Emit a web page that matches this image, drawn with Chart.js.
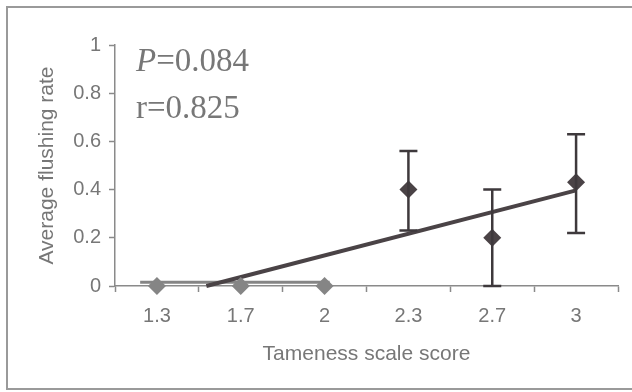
<!DOCTYPE html>
<html>
<head>
<meta charset="utf-8">
<script src="https://cdn.jsdelivr.net/npm/chart.js@4/dist/chart.umd.min.js"></script>
<style>
  html, body { margin: 0; padding: 0; background: #ffffff; }
  #wrap { width: 632px; height: 392px; position: relative; }
</style>
</head>
<body>
<div id="wrap"><canvas id="c" width="632" height="392"></canvas></div>
<script>
// Category labels on the x axis (positions 1..6)
const categories = ['1.3', '1.7', '2', '2.3', '2.7', '3'];
const yTicks = [0, 0.2, 0.4, 0.6, 0.8, 1];

// Dark series (with error bars)
const darkX = [4, 5, 6];
const darkMean = [0.40, 0.20, 0.43];
const darkLow = [0.23, 0.00, 0.22];
const darkHigh = [0.56, 0.40, 0.63];

// Grey series (no error bars)
const greyX = [1, 2, 3];
const greyMean = [0, 0, 0];

// Trend line
const trendX = [1.59, 6];
const trendY = [0, 0.397];

// Grey flat line near zero
const greyLineX = [0.8, 3.06];
const greyLineY = [0.016, 0.016];

const annotP = 'P';
const annotPValue = '=0.084';
const annotR = 'r=0.825';

const DARK = '#4a4346';
const GREY = '#858585';
const AXIS = '#8a8a8a';
const TEXT = '#777777';

const zip = (xs, ys) => xs.map((x, i) => ({ x: x, y: ys[i] }));

const frameAndText = {
  id: 'frameAndText',
  beforeDraw(chart) {
    const ctx = chart.ctx;
    ctx.save();
    ctx.strokeStyle = '#9a9a9a';
    ctx.lineWidth = 2;
    ctx.beginPath();
    ctx.moveTo(632, 7); ctx.lineTo(7, 7); ctx.lineTo(7, 389); ctx.lineTo(632, 389);
    ctx.stroke();
    ctx.restore();
  },
  afterDatasetsDraw(chart) {
    const ctx = chart.ctx;
    const xs = chart.scales.x, ys = chart.scales.y;
    ctx.save();
    ctx.strokeStyle = '#3e393c';
    ctx.lineWidth = 2.5;
    darkX.forEach((xv, i) => {
      const px = xs.getPixelForValue(xv);
      const top = ys.getPixelForValue(darkHigh[i]);
      const bot = ys.getPixelForValue(darkLow[i]);
      ctx.beginPath();
      ctx.moveTo(px, top); ctx.lineTo(px, bot);
      ctx.moveTo(px - 9, top); ctx.lineTo(px + 9, top);
      ctx.moveTo(px - 9, bot); ctx.lineTo(px + 9, bot);
      ctx.stroke();
    });
    ctx.restore();
  },
  afterDraw(chart) {
    const ctx = chart.ctx;
    ctx.save();
    ctx.fillStyle = TEXT;
    ctx.textBaseline = 'alphabetic';
    ctx.textAlign = 'left';
    ctx.font = 'italic 33px "Liberation Serif", "Times New Roman", serif';
    ctx.fillText(annotP, 136, 71);
    const w = ctx.measureText(annotP).width;
    ctx.font = '33px "Liberation Serif", "Times New Roman", serif';
    ctx.fillText(annotPValue, 136 + w, 71);
    ctx.fillText(annotR, 136, 118);
    ctx.restore();
  }
};

new Chart(document.getElementById('c'), {
  type: 'scatter',
  data: {
    datasets: [
      {
        label: 'grey line',
        data: zip(greyLineX, greyLineY),
        showLine: true,
        borderColor: GREY,
        borderWidth: 3,
        pointRadius: 0,
        clip: false,
        order: 4
      },
      {
        label: 'trend',
        data: zip(trendX, trendY),
        showLine: true,
        borderColor: DARK,
        borderWidth: 4,
        pointRadius: 0,
        clip: false,
        order: 3
      },
      {
        label: 'grey',
        data: zip(greyX, greyMean),
        pointStyle: 'rectRot',
        pointRadius: 9,
        backgroundColor: GREY,
        borderColor: GREY,
        borderWidth: 0,
        clip: false,
        order: 2
      },
      {
        label: 'dark',
        data: zip(darkX, darkMean),
        pointStyle: 'rectRot',
        pointRadius: 9,
        backgroundColor: DARK,
        borderColor: DARK,
        borderWidth: 0,
        clip: false,
        order: 1
      }
    ]
  },
  options: {
    responsive: false,
    animation: false,
    events: [],
    layout: { padding: { left: 0, right: 14, top: 45, bottom: 0 } },
    plugins: { legend: { display: false }, tooltip: { enabled: false } },
    scales: {
      x: {
        type: 'linear',
        min: 0.5,
        max: 6.5,
        afterFit: s => { s.height = 106; },
        afterBuildTicks: s => {
          const t = [];
          for (let i = 0; i <= categories.length; i++) {
            t.push({ value: i + 0.5 });
            if (i < categories.length) t.push({ value: i + 1 });
          }
          s.ticks = t;
        },
        ticks: {
          autoSkip: false,
          maxRotation: 0,
          padding: 12,
          color: TEXT,
          font: { family: '"Liberation Sans", Arial, sans-serif', size: 20 },
          callback: v => Number.isInteger(v) ? categories[v - 1] : ''
        },
        grid: {
          drawOnChartArea: false,
          drawTicks: true,
          tickLength: 6,
          tickWidth: 1.5,
          tickColor: ctx => (ctx.tick && Number.isInteger(ctx.tick.value)) ? 'rgba(0,0,0,0)' : AXIS
        },
        border: { display: true, color: AXIS, width: 1.5 },
        title: {
          display: true,
          text: 'Tameness scale score',
          color: TEXT,
          font: { family: '"Liberation Sans", Arial, sans-serif', size: 21 },
          padding: { top: 0, bottom: 25 }
        }
      },
      y: {
        type: 'linear',
        min: 0,
        max: 1,
        afterFit: s => { s.width = 115; },
        afterBuildTicks: s => { s.ticks = yTicks.map(v => ({ value: v })); },
        ticks: {
          padding: 8,
          color: TEXT,
          font: { family: '"Liberation Sans", Arial, sans-serif', size: 20 },
          callback: v => String(+v.toFixed(1))
        },
        grid: {
          drawOnChartArea: false,
          drawTicks: true,
          tickLength: 6,
          tickWidth: 1.5,
          tickColor: AXIS
        },
        border: { display: true, color: AXIS, width: 1.5 },
        title: {
          display: true,
          text: 'Average flushing rate',
          color: TEXT,
          font: { family: '"Liberation Sans", Arial, sans-serif', size: 21 },
          padding: { top: 35, bottom: 0 }
        }
      }
    }
  },
  plugins: [frameAndText]
});
</script>
</body>
</html>
